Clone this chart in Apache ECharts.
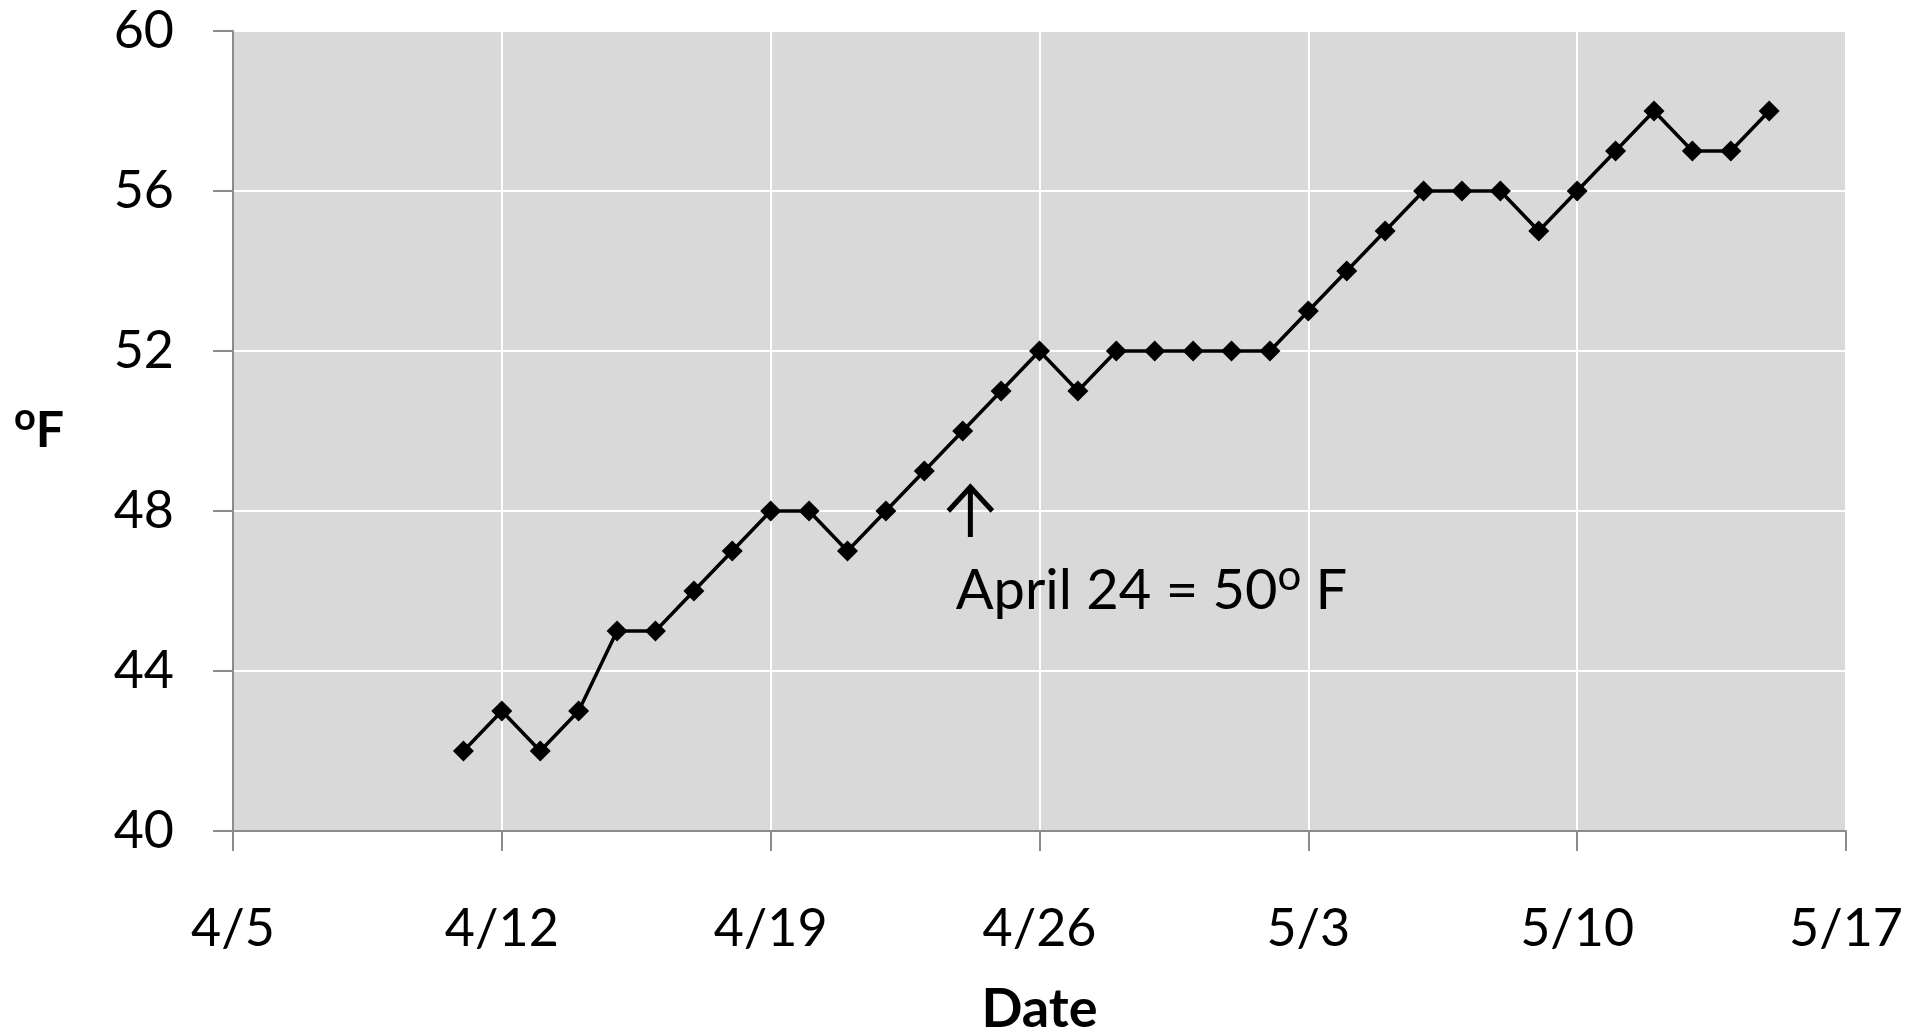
<!DOCTYPE html>
<html>
<head>
<meta charset="utf-8">
<title>Daily temperature</title>
<script src="https://cdn.jsdelivr.net/npm/echarts@6/dist/echarts.min.js"></script>
<style>
  html, body { margin: 0; padding: 0; background: #ffffff; }
  #chart { width: 1925px; height: 1032px; }
</style>
</head>
<body>
<div id="chart"></div>
<script>
// Observation dates and daily temperatures (°F)
const dates = [
  '2010-04-11', '2010-04-12', '2010-04-13', '2010-04-14', '2010-04-15',
  '2010-04-16', '2010-04-17', '2010-04-18', '2010-04-19', '2010-04-20',
  '2010-04-21', '2010-04-22', '2010-04-23', '2010-04-24', '2010-04-25',
  '2010-04-26', '2010-04-27', '2010-04-28', '2010-04-29', '2010-04-30',
  '2010-05-01', '2010-05-02', '2010-05-03', '2010-05-04', '2010-05-05',
  '2010-05-06', '2010-05-07', '2010-05-08', '2010-05-09', '2010-05-10',
  '2010-05-11', '2010-05-12', '2010-05-13', '2010-05-14', '2010-05-15'
];
const temps = [
  42, 43, 42, 43, 45, 45, 46, 47, 48, 48,
  47, 48, 49, 50, 51, 52, 51, 52, 52, 52,
  52, 52, 53, 54, 55, 56, 56, 56, 55, 56,
  57, 58, 57, 57, 58
];
// Axis range: weekly ticks from 4/5 to 5/17
const axisStart = '2010-04-05';
const axisEnd = '2010-05-17';
const tickDays = 7;
const yMin = 40, yMax = 60, yStep = 4;
// Highlighted day for the note
const noteDate = '2010-04-24';
const noteTemp = 50;

const DAY = 86400000;
function toMs(s) {
  const p = s.split('-').map(Number);
  return Date.UTC(p[0], p[1] - 1, p[2]);
}
const t0 = toMs(axisStart);
// x is measured in days after the axis start, so the weekly ticks start at 0
function dayOffset(s) { return Math.round((toMs(s) - t0) / DAY); }
function dayLabel(v) {
  const d = new Date(t0 + v * DAY);
  return (d.getUTCMonth() + 1) + '/' + d.getUTCDate();
}

const points = dates.map((d, i) => [dayOffset(d), temps[i]]);

const FONT = 'Lato, "Open Sans", sans-serif';
const AXIS_GRAY = '#8c8c8c';

const chart = echarts.init(document.getElementById('chart'), null, { renderer: 'canvas' });

chart.setOption({
  animation: false,
  backgroundColor: '#ffffff',
  grid: {
    left: 233, right: 79, top: 31, bottom: 201,
    outerBoundsMode: 'none',
    containLabel: false,
    show: true, backgroundColor: '#d9d9d9', borderWidth: 0
  },
  xAxis: {
    type: 'value',
    min: 0,
    max: dayOffset(axisEnd),
    interval: tickDays,
    name: 'Date',
    nameLocation: 'middle',
    nameGap: 152,
    nameTextStyle: { fontFamily: FONT, fontSize: 54, fontWeight: 'bold', color: '#000' },
    axisLine: { show: true, lineStyle: { color: AXIS_GRAY, width: 2 } },
    axisTick: { show: true, inside: false, length: 20, lineStyle: { color: AXIS_GRAY, width: 2 } },
    axisLabel: {
      formatter: dayLabel, margin: 72,
      fontFamily: FONT, fontSize: 52, color: '#000'
    },
    splitLine: { show: true, lineStyle: { color: '#ffffff', width: 2 } }
  },
  yAxis: {
    type: 'value',
    min: yMin, max: yMax, interval: yStep,
    name: '{sup|o}{f|F}',
    nameLocation: 'middle',
    nameRotate: 0,
    nameGap: 194,
    nameTextStyle: {
      align: 'center',
      fontFamily: FONT, fontWeight: 'bold', color: '#000',
      rich: {
        sup: { fontFamily: FONT, fontSize: 38, fontWeight: 'bold', color: '#000', verticalAlign: 'top', padding: [0, 0, 26, 0] },
        f: { fontFamily: FONT, fontSize: 50, fontWeight: 'bold', color: '#000' }
      }
    },
    axisLine: { show: true, lineStyle: { color: AXIS_GRAY, width: 2 } },
    axisTick: { show: true, inside: false, length: 20, lineStyle: { color: AXIS_GRAY, width: 2 } },
    axisLabel: { margin: 59, fontFamily: FONT, fontSize: 52, color: '#000' },
    splitLine: { show: true, lineStyle: { color: '#ffffff', width: 2 } }
  },
  series: [{
    type: 'line',
    data: points,
    symbol: 'diamond',
    symbolSize: 21,
    itemStyle: { color: '#000' },
    lineStyle: { color: '#000', width: 3.5 },
    z: 5
  }]
});

// Arrow and note pointing at the highlighted day
function drawNote() {
  const x = dayOffset(noteDate);
  const tip = chart.convertToPixel({ gridIndex: 0 }, [x + 0.2, noteTemp - 1.4]);
  const tail = chart.convertToPixel({ gridIndex: 0 }, [x + 0.2, noteTemp - 2.65]);
  const txt = chart.convertToPixel({ gridIndex: 0 }, [x - 0.18, noteTemp - 4.9]);
  const head = 22;
  chart.setOption({
    graphic: [
      {
        type: 'polyline', z: 10,
        shape: { points: [[tail[0], tail[1]], [tip[0], tip[1] + 2]] },
        style: { stroke: '#000', lineWidth: 5, fill: null }
      },
      {
        type: 'polyline', z: 10,
        shape: { points: [[tip[0] - head, tip[1] + head + 2], [tip[0], tip[1]], [tip[0] + head, tip[1] + head + 2]] },
        style: { stroke: '#000', lineWidth: 5, fill: null, lineJoin: 'miter' }
      },
      {
        type: 'text', z: 10,
        x: txt[0], y: txt[1],
        style: {
          text: 'April 24 = 50{sup|o} F',
          fontFamily: FONT, fontSize: 56, fill: '#000',
          textVerticalAlign: 'bottom',
          rich: {
            sup: { fontFamily: FONT, fontSize: 42, fill: '#000', verticalAlign: 'top', padding: [0, 0, 30, 0] }
          }
        }
      }
    ]
  });
}
drawNote();
</script>
</body>
</html>
